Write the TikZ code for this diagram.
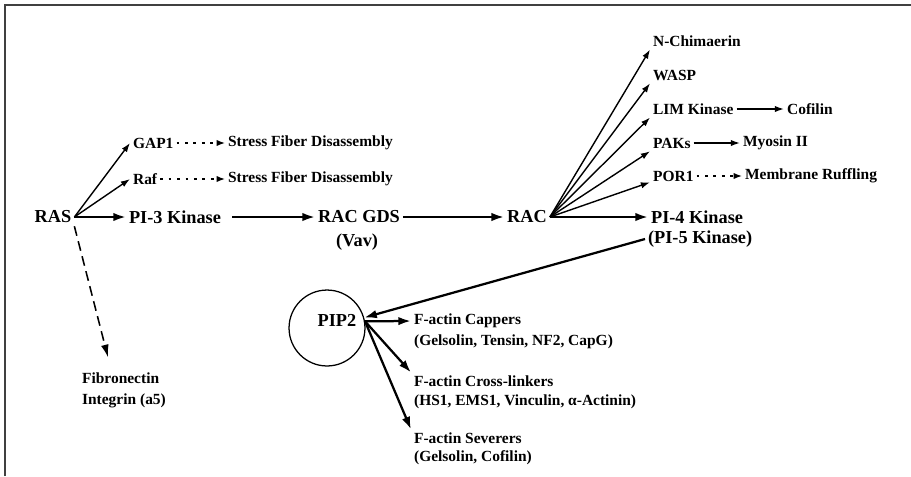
\documentclass[tikz,border=0pt]{standalone}
\usepackage{fontspec}
\setmainfont{Liberation Serif}
\usepackage{tikz}
\usetikzlibrary{arrows.meta,calc}

\begin{document}
\begin{tikzpicture}[x=0.025cm,y=-0.025cm,
	big/.style={font=\fontsize{13}{15}\selectfont\bfseries,inner sep=2pt},
	sml/.style={font=\fontsize{11}{15}\selectfont\bfseries,inner sep=2pt,anchor=west,align=left},
	thk/.style={line width=1.6pt,-{Latex[length=9pt,width=6pt]}},
	thn/.style={line width=1pt,-{Latex[length=6.5pt,width=4.5pt]}},
	dot/.style={line width=0.9pt,dash pattern=on 2pt off 4pt,-{Latex[length=6pt,width=4.5pt]}},
	dsh/.style={line width=1.1pt,dash pattern=on 7pt off 4pt,-{Latex[length=9pt,width=5.5pt]}}]
	\useasboundingbox (0,0) rectangle (911,476);
	\draw[line width=1.2pt,black!75] (5,476) -- (5,5) -- (911,5); % frame
	%
	\node[big] (ras) at (53,217) {RAS};
	\node[big] (pi3) at (175,217) {PI-3 Kinase};
	\node[big] (gds) at (359,217) {RAC GDS};
	\node[big] (vav) at (357,242) {(Vav)};
	\node[big] (rac) at (527,217) {RAC};
	\node[big,anchor=west] (pi4) at (648,217) {PI-4 Kinase};
	\node[big,anchor=west] (pi5) at (645,239) {(PI-5 Kinase)};
	%
	\node[sml] (gap) at (130,143) {GAP1};
	\node[sml] (raf) at (130,179) {Raf};
	\node[sml] (sf1) at (225,143) {Stress Fiber Disassembly};
	\node[sml] (sf2) at (225,179) {Stress Fiber Disassembly};
	\node[sml] (fib) at (79,390) {Fibronectin\\Integrin (a5)};
	%
	\node[sml] (nch) at (650,41) {N-Chimaerin};
	\node[sml] (wasp) at (650,75) {WASP};
	\node[sml] (lim) at (650,109) {LIM Kinase};
	\node[sml] (cof) at (784,109) {Cofilin};
	\node[sml] (paks) at (650,143) {PAKs};
	\node[sml] (myo) at (740,143) {Myosin II};
	\node[sml] (por) at (650,176) {POR1};
	\node[sml] (ruf) at (742,176) {Membrane Ruffling};
	%
	\node[circle,draw,line width=0.9pt,minimum size=54pt] (pip) at (327,328) {};
	\node[big] (piptxt) at (337,320) {PIP2};
	\node[sml] (cap) at (411,321) {F-actin Cappers};
	\node[sml] (capl) at (411,342) {(Gelsolin, Tensin, NF2, CapG)};
	\node[sml] (crs) at (411,381) {F-actin Cross-linkers};
	\node[sml] (crsl) at (411,402) {(HS1, EMS1, Vinculin, α-Actinin)};
	\node[sml] (sev) at (411,438) {F-actin Severers};
	\node[sml] (sevl) at (411,458) {(Gelsolin, Cofilin)};
	%
	\draw[thk] (ras) -- (pi3);
	\draw[thk,shorten <=6pt] (pi3) -- (gds);
	\draw[thk] (gds) -- (rac);
	\draw[thk] (rac) -- (pi4);
	\draw[thk] (pi5.west) -- (pip);
	\draw[thn] (ras.east) -- (gap.west);
	\draw[thn] (ras.east) -- (raf.west);
	\draw[dot] (gap) -- (sf1);
	\draw[dot] (raf) -- (sf2);
	\draw[dsh] (ras.south east) -- ($(fib.north)+(-16,-12)$);
	%
	\draw[thn] (rac.east) -- (nch.south west);
	\draw[thn] (rac.east) -- (wasp.south west);
	\draw[thn] (rac.east) -- (lim.south west);
	\draw[thn] (rac.east) -- (paks.south west);
	\draw[thn] (rac.east) -- (por.195);
	\draw[thn] (lim) -- (cof);
	\draw[thn] (paks) -- (myo);
	\draw[dot] (por) -- (ruf);
	%
	\draw[thk] (pip.10) -- (cap.west);
	\draw[thk] (pip.10) -- (crs.north west);
	\draw[thk] (pip.10) -- (sev.north west);
\end{tikzpicture}
\end{document}
